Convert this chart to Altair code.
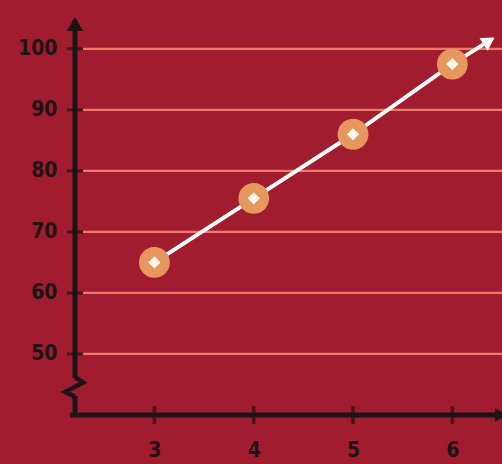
import altair as alt
import pandas as pd

# data
x_vals = [3, 4, 5, 6]
y_vals = [65, 75.5, 86, 97.5]
arrow_x = [6.37]
arrow_y = [101.3]
x_ticks = [3, 4, 5, 6]
y_ticks = [50, 60, 70, 80, 90, 100]

BG = "#A01C2E"
GRID = "#EE7A6C"
INK = "#1E1416"
ORANGE = "#E6975E"
FONT = "DejaVu Sans Condensed, DejaVu Sans"

xs = alt.Scale(domain=[2.2, 6.5], nice=False, zero=False)
ys = alt.Scale(domain=[40, 108], nice=False, zero=False)
xax = alt.Axis(values=x_ticks, domain=False, ticks=False, grid=False,
               labelPadding=24, labelFont=FONT, labelFontWeight="bold",
               labelFontSize=21, labelColor=INK, title=None)
yax = alt.Axis(values=y_ticks, domain=False, ticks=False, grid=False,
               labelPadding=18, labelFont=FONT, labelFontWeight="bold",
               labelFontSize=21, labelColor=INK, title=None)

pts = pd.DataFrame({"x": x_vals, "y": y_vals})
line_df = pd.DataFrame({"x": x_vals + arrow_x, "y": y_vals + arrow_y})
arr_df = pd.DataFrame({"x": arrow_x, "y": arrow_y})
yt = pd.DataFrame({"v": y_ticks})
xt = pd.DataFrame({"v": x_ticks})
one = alt.Data(values=[{"a": 1}])

X = lambda f: alt.X(f, scale=xs, axis=xax)
Y = lambda f: alt.Y(f, scale=ys, axis=yax)

grid = alt.Chart(yt).mark_rule(color=GRID, strokeWidth=2.2).encode(
    y=Y("v:Q"), x=alt.value(8), x2=alt.value(427))

yaxis_top = alt.Chart(one).mark_rule(color=INK, strokeWidth=5).encode(
    x=alt.value(0), y=alt.value(20), y2=alt.value(378))
yaxis_bot = alt.Chart(one).mark_rule(color=INK, strokeWidth=5).encode(
    x=alt.value(0), y=alt.value(396), y2=alt.value(417))
zig = alt.Chart(one).mark_point(shape="M0,-1L0.85,-0.45L-1,0.5L0,1", filled=False,
                                color=INK, strokeWidth=4.5, size=380, opacity=1).encode(
    x=alt.value(0), y=alt.value(387))
yarrow = alt.Chart(one).mark_point(shape="triangle-up", filled=True, color=INK,
                                   size=260, opacity=1).encode(x=alt.value(0), y=alt.value(24))
xaxis = alt.Chart(one).mark_rule(color=INK, strokeWidth=5).encode(
    y=alt.value(415), x=alt.value(-5), x2=alt.value(427))
xarrow = alt.Chart(one).mark_point(shape="triangle-right", filled=True, color=INK,
                                   size=200, opacity=1).encode(x=alt.value(426), y=alt.value(415))

yticks = alt.Chart(yt).mark_tick(orient="horizontal", color=INK, size=16, thickness=3).encode(
    y=Y("v:Q"), x=alt.value(0))
xticks = alt.Chart(xt).mark_tick(orient="vertical", color=INK, size=18, thickness=3.5).encode(
    x=X("v:Q"), y=alt.value(415))

line = alt.Chart(line_df).mark_line(color="white", strokeWidth=4).encode(
    x=X("x:Q"), y=Y("y:Q"))
arrowhead = alt.Chart(arr_df).mark_point(shape="triangle-up", filled=True, color="white",
                                         size=230, opacity=1, angle=58).encode(
    x=X("x:Q"), y=Y("y:Q"))

circles = alt.Chart(pts).mark_circle(color=ORANGE, size=950, opacity=1).encode(
    x=X("x:Q"), y=Y("y:Q"))
diamonds = alt.Chart(pts).mark_point(shape="diamond", filled=True, color="#FFF6EC",
                                     size=150, opacity=1).encode(
    x=X("x:Q"), y=Y("y:Q"))

chart = alt.layer(
    grid, yaxis_top, yaxis_bot, zig, yarrow, xaxis, xarrow, yticks, xticks,
    line, arrowhead, circles, diamonds
).properties(
    width=427, height=415,
    autosize=alt.AutoSizeParams(type="none"),
    padding={"left": 75, "top": 0, "right": 0, "bottom": 49},
    background=BG,
).configure_view(stroke=None, fill=BG)

chart.save("out.html", embed_options={"renderer": "svg", "actions": False})
